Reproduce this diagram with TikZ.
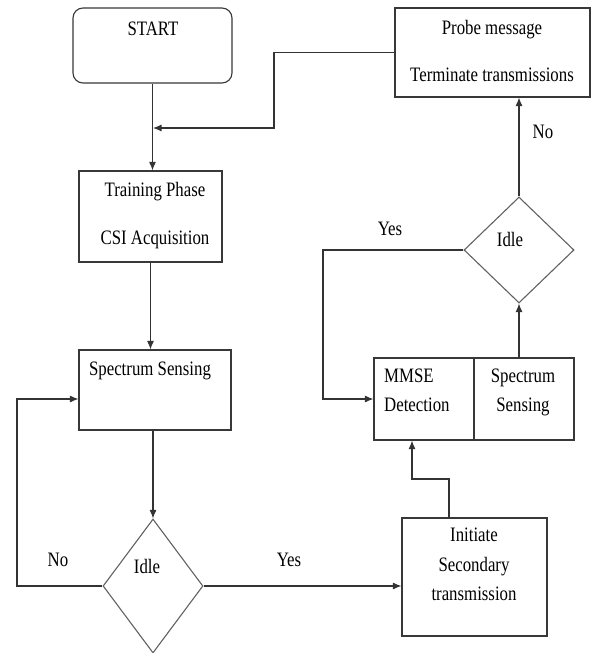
\documentclass[tikz,border=0pt]{standalone}
\usepackage{fontspec}
\setmainfont[FakeStretch=0.82]{Liberation Serif}
\usetikzlibrary{arrows.meta,shapes.geometric}

\tikzset{
  blk/.style={draw=black!78, line width=1.1pt, inner sep=0pt},
  dec/.style={diamond, draw=black!62, line width=1.1pt, inner sep=0pt},
  txt/.style={inner sep=0pt, text height=1.4ex, text depth=0pt, font=\fontsize{20.5}{22}\selectfont},
  arr/.style={draw=black!80, line width=1.1pt, -{Latex[length=8.5pt,width=7pt]}},
  ln/.style={draw=black!80, line width=1.1pt}
}

\begin{document}
\begin{tikzpicture}[x=1pt,y=-1pt]
\useasboundingbox (0,0) rectangle (592,653);

% boxes
\node[blk, rounded corners=10pt, minimum width=159pt, minimum height=75pt] (start) at (152.5,45.5) {};
\node[blk, minimum width=143pt, minimum height=91pt] (train) at (150.5,216.5) {};
\node[blk, minimum width=152pt, minimum height=80pt] (sense) at (155,390) {};
\node[dec, minimum width=100pt, minimum height=134pt] (idle) at (153,586) {};
\node[blk, minimum width=145pt, minimum height=118pt] (init) at (474.5,577) {};
\node[blk, minimum width=100pt, minimum height=82pt] (mmse) at (424,399) {};
\node[blk, minimum width=100pt, minimum height=82pt] (resense) at (524,399) {};
\node[dec, minimum width=110pt, minimum height=106pt] (reidle) at (519,250) {};
\node[blk, minimum width=195pt, minimum height=89pt] (probe) at (492.5,52.5) {};

% texts
\node[txt] (tstart) at (153,32) {START};
\node[txt] (ttrain) at (155,193) {Training Phase};
\node[txt] (tcsi) at (155,241) {CSI Acquisition};
\node[txt] (tsense) at (150,372) {Spectrum Sensing};
\node[txt] (tidle) at (147,570) {Idle};
\node[txt] (tno) at (58,563) {No};
\node[txt] (tyes) at (289,563) {Yes};
\node[txt] (tinit) at (474,538) {Initiate};
\node[txt] (tsec) at (474,568) {Secondary};
\node[txt] (ttrans) at (474,597) {transmission};
\node[txt, anchor=west] (tmmse) at (384,379) {MMSE};
\node[txt, anchor=west] (tdet) at (384,408) {Detection};
\node[txt] (tspec) at (523,379) {Spectrum};
\node[txt] (tsens) at (523,408) {Sensing};
\node[txt] (treidle) at (510,243) {Idle};
\node[txt] (tyes2) at (390,232) {Yes};
\node[txt] (tno2) at (543,135) {No};
\node[txt] (tprobe) at (492,31) {Probe message};
\node[txt] (tterm) at (492,78) {Terminate transmissions};

% connectors
\coordinate (merge) at (153,128);
\coordinate (jog) at (274,128);
\coordinate (noleft) at (17,399);
\coordinate (jog2) at (412,479);
\coordinate (yesleft) at (323,399);

\draw[arr] (start.south) -- (start.south |- train.north);
\draw[arr] (probe.west) -| (jog) -- (merge);
\draw[arr] (train.south) -- (train.south |- sense.north);
\draw[arr] (idle.north |- sense.south) -- (idle.north);
\draw[arr] (idle.west) -| (noleft) -- (noleft -| sense.west);
\draw[arr] (idle.east) -- (idle.east -| init.west);
\draw[arr] ([xshift=-25.5pt]init.north) |- (jog2) -- (jog2 |- mmse.south);
\draw[arr] (reidle.south |- resense.north) -- (reidle.south);
\draw[arr] (reidle.west) -| (yesleft) -- (yesleft -| mmse.west);
\draw[arr] (reidle.north) -- (reidle.north |- probe.south);
\end{tikzpicture}
\end{document}
